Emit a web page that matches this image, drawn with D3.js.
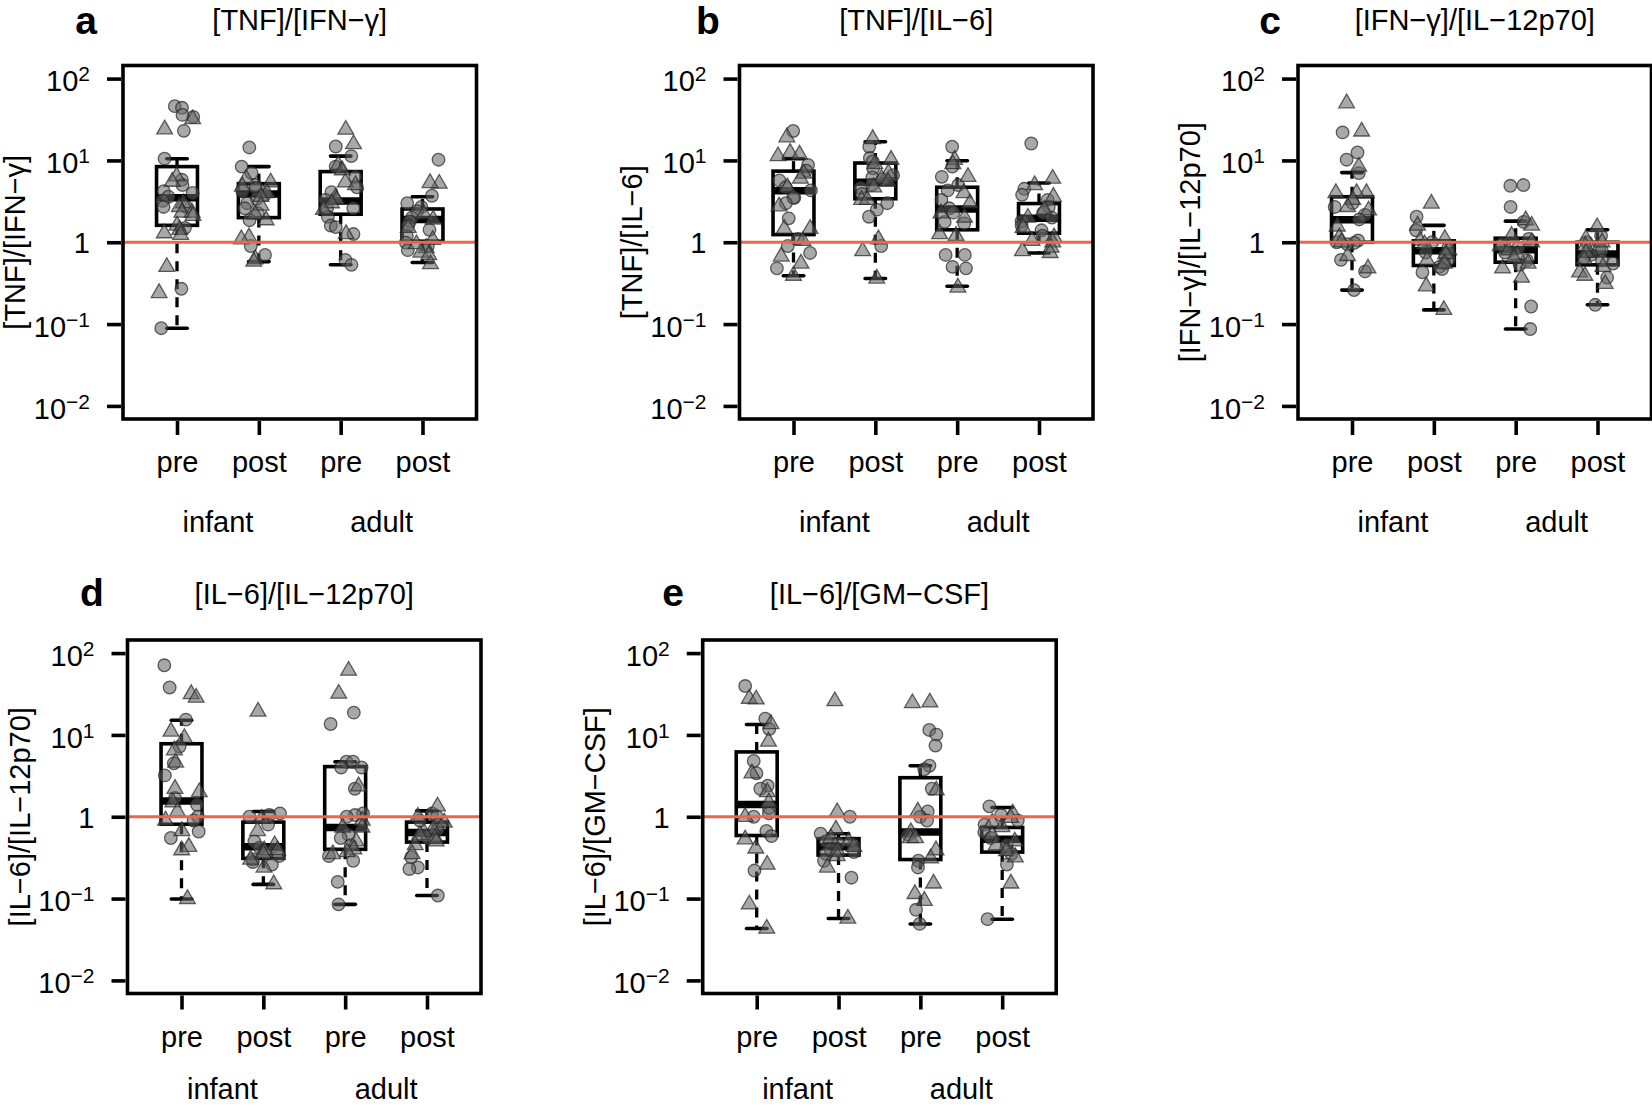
<!DOCTYPE html>
<html><head><meta charset="utf-8">
<script src="https://cdn.jsdelivr.net/npm/d3@7"></script>
<style>
html,body{margin:0;padding:0;background:#fff;}
svg{display:block;background:#fff;}
text{font-family:"Liberation Sans",Arial,Helvetica,sans-serif;fill:#000;}
</style></head><body>
<svg id="chart" width="1652" height="1107"></svg>
<script>
// ---------------- data ----------------
const groupLabels = ["pre", "post", "pre", "post"];
const cohortLabels = ["infant", "adult"];
const yTickValues = [0.01, 0.1, 1, 10, 100];
const panelLetters = ["a", "b", "c", "d", "e"];
const panelTitles = ["[TNF]/[IFN\u2212\u03b3]", "[TNF]/[IL\u22126]", "[IFN\u2212\u03b3]/[IL\u221212p70]", "[IL\u22126]/[IL\u221212p70]", "[IL\u22126]/[GM\u2212CSF]"];
const referenceValue = 1;

// box statistics per group: [lower whisker, Q1, median, Q3, upper whisker]
const tnfIfngBox = [[0.089,1.61,3.5,8.4,10.5],[0.58,2.0,3.9,5.2,8.4],[0.53,2.2,3.2,7.3,11.3],[0.565,1.03,1.9,2.55,3.6]];
const tnfIfngCircles = [
  [46,44,34,36,23,10.5,5.8,5.0,4.2,4.0,3.6,3.2,2.7,2.7,1.5,0.27,0.089],
  [14.4,8.4,7.0,5.0,4.6,4.2,3.8,3.4,3.0,2.6,2.26,1.86,0.9,0.70],
  [14.8,11.3,8.4,6.3,4.7,4.1,3.3,2.6,2.6,2.05,1.6,1.53,1.26,0.61,0.53],
  [10.2,3.7,3.0,2.7,2.4,2.0,1.8,1.6,1.42,1.2,0.99,0.9,0.8]
];
const tnfIfngTriangles = [
  [32,24,6.4,5.5,3.0,2.7,2.3,2.3,2.1,1.6,1.42,1.29,1.23,0.50,0.24],
  [6.0,5.4,4.8,4.0,3.6,2.8,2.2,1.86,1.15,1.09,0.62,0.58],
  [23.8,15.8,8.8,7.6,5.4,5.0,3.5,3.3,3.0,2.5,1.26],
  [5.2,5.3,2.2,1.9,1.5,1.07,0.95,0.85,0.75,0.7,0.54]
];

const tnfIl6Box = [[0.39,1.24,4.26,7.4,10.5],[0.36,3.4,5.4,9.3,16.9],[0.29,1.42,2.54,4.7,9.9],[0.74,1.29,1.96,2.97,5.3]];
const tnfIl6Circles = [
  [22.9,8.8,7.5,5.7,4.7,4.3,3.5,3.5,3.0,1.96,1.1,0.90,0.74,0.48],
  [14.7,10.7,9.7,8.0,6.6,6.2,5.9,5.0,4.6,3.9,3.0,2.5,2.05,0.90],
  [14.7,8.4,6.3,5.0,4.3,3.3,2.6,2.3,1.77,1.7,0.70,0.70,0.5,0.48],
  [16.1,4.5,3.8,3.3,2.7,2.3,2.0,1.8,1.6,1.4,1.2]
];
const tnfIl6Triangles = [
  [19.2,12.4,11.8,11.3,6.9,6.0,4.7,2.75,1.46,1.46,1.04,0.67,0.55,0.39],
  [18.3,10.2,9.0,7.0,6.0,5.5,4.7,3.3,3.3,1.09,0.78,0.36],
  [10.2,9.0,6.3,4.0,3.0,2.26,2.0,1.26,1.2,0.28],
  [6.0,5.0,3.6,2.5,2.0,1.5,1.15,1.04,1.0,0.86,0.78,0.74]
];

const ifngIl12Box = [[0.26,1.0,1.88,3.6,7.1],[0.149,0.52,0.79,1.04,1.61],[0.087,0.57,0.81,1.12,1.81],[0.172,0.53,0.72,1.0,1.42]];
const ifngIl12Circles = [
  [22,12.5,10.2,7.0,3.0,2.7,2.16,1.9,1.05,1.0,0.98,0.95,0.61,0.44,0.26],
  [2.05,1.4,1.0,0.85,0.75,0.7,0.62,0.55,0.5,0.47,0.43],
  [5.0,4.9,2.7,1.77,1.1,0.95,0.85,0.75,0.6,0.53,0.164,0.087],
  [1.2,1.0,0.85,0.8,0.7,0.65,0.6,0.55,0.37,0.172]
];
const ifngIl12Triangles = [
  [50,22.6,8.4,4.0,4.0,4.0,3.3,2.7,2.45,1.56,1.15,1.0,0.68,0.48],
  [2.97,1.6,1.1,1.05,0.95,0.8,0.72,0.6,0.55,0.29,0.149],
  [1.86,1.6,1.2,1.0,0.9,0.8,0.7,0.64,0.55,0.48,0.37],
  [1.53,1.1,1.0,0.9,0.75,0.62,0.5,0.43,0.39,0.31]
];

const il6Il12Box = [[0.099,0.81,1.56,7.8,15.1],[0.149,0.31,0.43,0.86,1.16],[0.085,0.4,0.74,4.1,4.7],[0.109,0.49,0.64,0.86,1.18]];
const il6Il12Circles = [
  [71,38,15.4,7.2,4.5,3.2,1.7,1.4,1.0,0.9,0.66,0.55],
  [1.1,1.05,1.0,0.8,0.5,0.42,0.36,0.33,0.3,0.28,0.26],
  [18.7,13.6,4.7,4.7,4.0,4.0,2.2,1.1,1.05,1.0,0.6,0.55,0.45,0.33,0.29,0.16,0.085],
  [1.1,1.0,0.9,0.8,0.7,0.6,0.55,0.32,0.24,0.23,0.109]
];
const il6Il12Triangles = [
  [31.6,28.6,11,9.2,6.5,4.6,2.2,2.0,1.5,1.16,0.9,0.67,0.43,0.39,0.099],
  [19.3,0.95,0.67,0.45,0.39,0.39,0.35,0.3,0.24,0.15],
  [61,32,2.36,0.9,0.74,0.74,0.5,0.4,0.37,0.35],
  [1.34,1.0,0.85,0.7,0.65,0.6,0.55,0.5,0.45,0.35]
];

const il6GmcsfBox = [[0.043,0.59,1.41,6.2,13.4],[0.057,0.34,0.43,0.54,0.62],[0.049,0.3,0.65,3.0,4.2],[0.056,0.37,0.53,0.74,1.3]];
const il6GmcsfCircles = [
  [39.6,15.8,11.8,4.8,3.4,2.4,2.2,1.28,1.1,1.0,0.67,0.58,0.22],
  [1.0,0.62,0.5,0.47,0.45,0.4,0.37,0.35,0.29,0.18],
  [11.5,10.1,7.4,4.2,3.8,2.2,1.16,1.0,0.9,0.6,0.29,0.24,0.073,0.049],
  [1.34,1.05,0.9,0.8,0.65,0.55,0.45,0.4,0.35,0.26,0.056]
];
const il6GmcsfTriangles = [
  [27.7,27.2,13.6,8.3,3.4,2.0,1.5,1.0,0.53,0.41,0.26,0.085,0.043],
  [25.9,1.14,0.7,0.55,0.5,0.43,0.38,0.33,0.24,0.057],
  [25,24.5,2.1,1.16,0.65,0.55,0.55,0.39,0.31,0.153,0.114,0.094],
  [1.1,0.97,0.85,0.75,0.6,0.5,0.45,0.38,0.32,0.153]
];

const panelBoxes = [tnfIfngBox, tnfIl6Box, ifngIl12Box, il6Il12Box, il6GmcsfBox];
const panelCircles = [tnfIfngCircles, tnfIl6Circles, ifngIl12Circles, il6Il12Circles, il6GmcsfCircles];
const panelTriangles = [tnfIfngTriangles, tnfIl6Triangles, ifngIl12Triangles, il6Il12Triangles, il6GmcsfTriangles];

// ---------------- layout ----------------
const S = 353.5;
const layout = [
  {x: 123,   y: 65.5, lx: 86,   ly: 34,  cy: 113},
  {x: 739.5, y: 65.5, lx: 708,  ly: 34,  cy: 113},
  {x: 1298,  y: 65.5, lx: 1270, ly: 34,  cy: 113},
  {x: 127.5, y: 640,  lx: 92,   ly: 606, cy: 105.5},
  {x: 702.7, y: 640,  lx: 673,  ly: 606, cy: 105.5}
];
const FS = 29;
const LW = 3.6;
const svg = d3.select("#chart");
svg.append("rect").attr("width", 1652).attr("height", 1107).attr("fill", "#fff");

// deterministic horizontal jitter (display only)
function jitter(p, g, k) {
  const h = Math.sin((k + 1) * 12.9898 + (g + 1) * 78.233 + (p + 1) * 37.719) * 43758.5453;
  return (h - Math.floor(h) - 0.5) * 0.44;
}
const supMap = {"-2": "\u22122", "-1": "\u22121", "1": "1", "2": "2"};

layout.forEach((L, p) => {
  const g = svg.append("g").attr("transform", `translate(${L.x},${L.y})`);
  const x = d3.scaleLinear().domain([0.34, 4.66]).range([0, S]);
  const y = d3.scaleLog().domain([Math.pow(10, -2.16), Math.pow(10, 2.16)]).range([S, 0]);
  const hw = x(1.25) - x(1);

  // boxes
  const boxes = g.append("g");
  panelBoxes[p].forEach((b, i) => {
    const cx = x(i + 1);
    const [lo, q1, med, q3, hi] = b;
    boxes.append("line").attr("x1", cx).attr("x2", cx).attr("y1", y(q3)).attr("y2", y(hi))
      .attr("stroke", "#000").attr("stroke-width", 3.3).attr("stroke-dasharray", "10,8");
    boxes.append("line").attr("x1", cx).attr("x2", cx).attr("y1", y(q1)).attr("y2", y(lo))
      .attr("stroke", "#000").attr("stroke-width", 3.3).attr("stroke-dasharray", "10,8");
    [lo, hi].forEach(v => boxes.append("line").attr("x1", cx - hw / 2).attr("x2", cx + hw / 2)
      .attr("y1", y(v)).attr("y2", y(v)).attr("stroke", "#000").attr("stroke-width", LW).attr("stroke-linecap", "round"));
    boxes.append("rect").attr("x", cx - hw).attr("width", 2 * hw).attr("y", y(q3)).attr("height", y(q1) - y(q3))
      .attr("fill", "none").attr("stroke", "#000").attr("stroke-width", LW);
    boxes.append("line").attr("x1", cx - hw).attr("x2", cx + hw).attr("y1", y(med)).attr("y2", y(med))
      .attr("stroke", "#000").attr("stroke-width", 7.5);
  });

  // points
  const pts = [];
  for (let i = 0; i < 4; i++) {
    panelCircles[p][i].forEach((v, k) => pts.push({g: i, v, shape: "c", k}));
    panelTriangles[p][i].forEach((v, k) => pts.push({g: i, v, shape: "t", k: k + 50}));
  }
  const unit = x(2) - x(1);
  g.append("g").selectAll("path").data(pts).join("path")
    .attr("d", d => d3.symbol().type(d.shape === "c" ? d3.symbolCircle : d3.symbolTriangle).size(d.shape === "c" ? 124 : 108)())
    .attr("transform", d => `translate(${x(d.g + 1) + jitter(p, d.g, d.k) * unit},${y(d.v)})`)
    .attr("fill", "rgba(100,100,100,0.56)")
    .attr("stroke", "rgba(40,40,40,0.72)")
    .attr("stroke-width", 1.3);

  // reference line
  g.append("line").attr("x1", 0).attr("x2", S).attr("y1", y(referenceValue)).attr("y2", y(referenceValue))
    .attr("stroke", "#f0644a").attr("stroke-width", 3);

  // frame
  g.append("rect").attr("x", 0).attr("y", 0).attr("width", S).attr("height", S)
    .attr("fill", "none").attr("stroke", "#000").attr("stroke-width", LW);

  // y axis
  const gy = g.append("g").attr("transform", "translate(-2,0)")
    .call(d3.axisLeft(y).tickValues(yTickValues).tickSize(14).tickPadding(17).tickFormat(() => ""));
  gy.select(".domain").remove();
  gy.selectAll(".tick line").attr("stroke", "#000").attr("stroke-width", LW);
  gy.selectAll(".tick text").each(function (d) {
    const t = d3.select(this);
    const e = Math.round(Math.log10(d));
    t.text(null).attr("dy", null).attr("font-size", FS).attr("fill", "#000");
    if (e === 0) {
      t.attr("y", 10.4).text("1");
    } else {
      t.attr("y", 12.4);
      t.append("tspan").text("10");
      t.append("tspan").attr("dy", -10).attr("font-size", 21).text(supMap[String(e)]);
    }
  });

  // x axis
  const gx = g.append("g").attr("transform", `translate(0,${S + 2})`)
    .call(d3.axisBottom(x).tickValues([1, 2, 3, 4]).tickSize(14).tickPadding(0).tickFormat((d, i) => groupLabels[i]));
  gx.select(".domain").remove();
  gx.selectAll(".tick line").attr("stroke", "#000").attr("stroke-width", LW);
  gx.selectAll(".tick text").attr("y", 51).attr("dy", null).attr("font-size", FS).attr("fill", "#000");

  // cohort labels
  cohortLabels.forEach((c, j) => {
    g.append("text").attr("x", x(1.5 + 2 * j)).attr("y", S + L.cy).attr("text-anchor", "middle")
      .attr("font-size", FS).text(c);
  });

  // title
  g.append("text").attr("x", S / 2).attr("y", -36).attr("text-anchor", "middle").attr("font-size", FS).text(panelTitles[p]);

  // y label
  g.append("text").attr("transform", `translate(-98,${S / 2}) rotate(-90)`).attr("text-anchor", "middle")
    .attr("font-size", FS).text(panelTitles[p]);

  // panel letter
  svg.append("text").attr("x", L.lx).attr("y", L.ly).attr("text-anchor", "middle")
    .attr("font-size", 39).attr("font-weight", "bold").text(panelLetters[p]);
});
</script>
</body></html>
